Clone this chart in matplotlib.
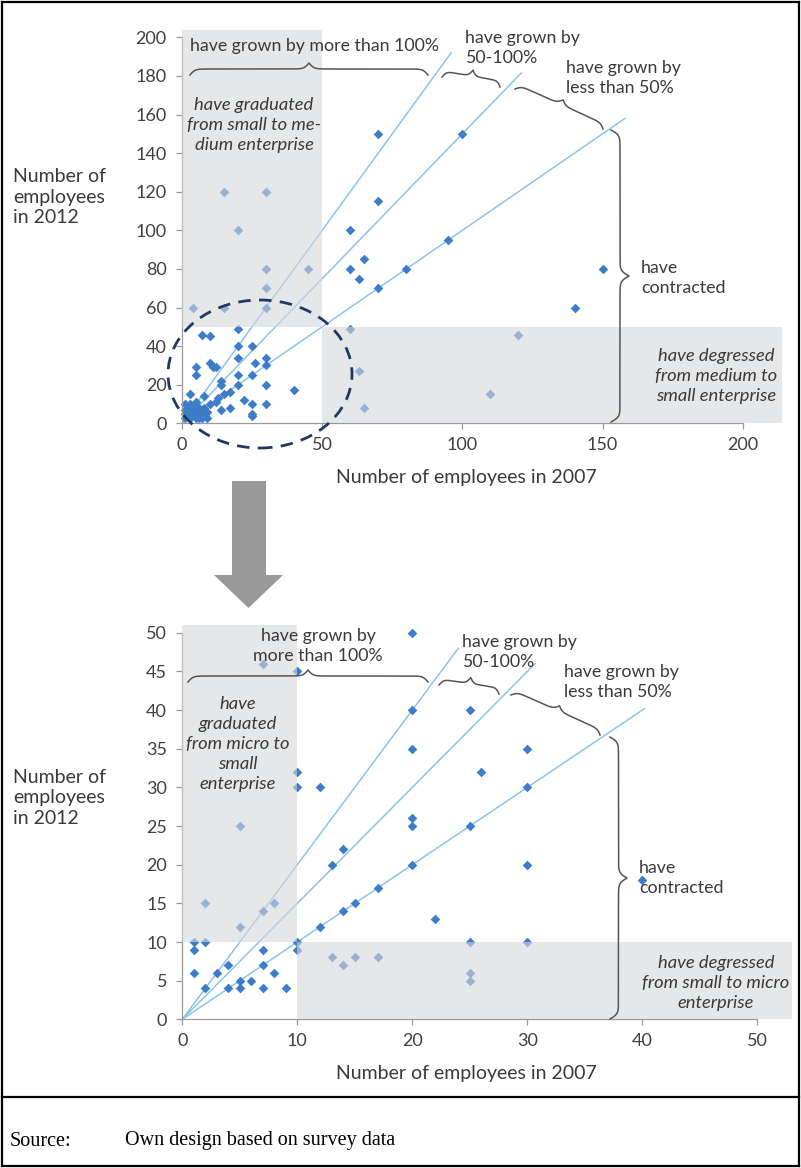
import numpy as np
import matplotlib
matplotlib.use("Agg")
import matplotlib.pyplot as plt
from matplotlib.patches import Rectangle, Ellipse, Polygon
from matplotlib.lines import Line2D

plt.rcParams['font.family'] = ['Lato', 'DejaVu Sans']

W, H = 801, 1168

# ---- data: top chart (all enterprises), employees 2007 vs 2012
top_2007 = [70, 100, 15, 30, 70, 20, 60, 95, 30, 45, 60, 65, 63, 80, 70, 30, 4, 15, 30,
            20, 60, 7, 10, 20, 25, 20, 30, 26, 30, 5, 5, 10, 11, 12, 20, 25, 14, 14, 20,
            30, 40, 3, 8, 17, 15, 22, 5, 12, 13, 10, 14, 17, 25, 30, 25, 25, 63, 65, 110,
            150, 140, 120,
            1, 1, 1, 2, 3, 4, 6, 7, 8, 9, 1, 3, 5, 6, 7, 2, 4, 6, 8, 9, 3, 5]
top_2012 = [150, 150, 120, 120, 115, 100, 100, 95, 80, 80, 80, 85, 75, 80, 70, 70, 60, 60, 60,
            49, 49, 46, 45, 40, 40, 34, 34, 31, 30, 29, 25, 31, 29, 29, 25, 25, 22, 20, 20,
            20, 17, 15, 14, 16, 15, 12, 11, 11, 13, 10, 7, 8, 10, 10, 5, 4, 27, 8, 15,
            80, 60, 46,
            10, 7, 5, 5, 5, 6, 5, 7, 4, 3, 3, 3, 3, 3, 3, 8, 8, 8, 8, 6, 10, 7]

# ---- data: bottom chart (micro and small enterprises)
bot_2007 = [20, 7, 10, 20, 25, 20, 30, 10, 10, 12, 26, 30, 5, 20, 20, 25, 13, 14, 20, 30,
            17, 15, 14, 12, 22, 2, 7, 8, 5, 40, 1, 1, 2, 10, 10, 7, 13, 15, 17, 14, 25, 30,
            25, 25, 1, 3, 4, 7, 8, 5, 6, 2, 4, 5, 7, 9]
bot_2012 = [50, 46, 45, 40, 40, 35, 35, 32, 30, 30, 32, 30, 25, 26, 25, 25, 20, 22, 20, 20,
            17, 15, 14, 12, 13, 15, 14, 15, 12, 18, 10, 9, 10, 10, 9, 9, 8, 8, 8, 7, 10, 10,
            6, 5, 6, 6, 7, 7, 6, 5, 5, 4, 4, 4, 4, 4]

# growth reference lines: slope (2012/2007) and x where the line ends
growth_slopes = [2.0, 1.5, 1.0]
top_line_ends = [96, 121, 158]
bot_line_ends = [24, 30.7, 40.2]

top_yticks = list(range(0, 201, 20))
top_xticks = [0, 50, 100, 150, 200]
bot_yticks = list(range(0, 51, 5))
bot_xticks = [0, 10, 20, 30, 40, 50]

PT_COL = '#3d7cc9'
LINE_COL = '#8cc4ec'
GRAY = '#d6d7da'
TXT = '#3a3a3a'
AX_COL = '#9a9a9a'


def fx(px):
    return px / W


def fy(py):
    return 1 - py / H


def brace(fig, p1, p2, depth):
    (x1, y1), (x2, y2) = p1, p2
    L = np.hypot(x2 - x1, y2 - y1)
    e = np.array([(x2 - x1) / L, (y2 - y1) / L])
    n = np.array([e[1], -e[0]])
    s = min(5.0, L / 16)
    u = np.linspace(0, L / 2, 120)
    v = 0.5 * np.tanh(u / s) + 0.5 * (1 + np.tanh((u - L / 2) / s))
    uu = np.concatenate([u, L - u[::-1]])
    vv = np.concatenate([v, v[::-1]])
    xs = x1 + uu * e[0] + vv * depth * n[0]
    ys = y1 + uu * e[1] + vv * depth * n[1]
    fig.add_artist(Line2D(fx(xs), fy(ys), transform=fig.transFigure,
                          color='#555555', lw=1.1))


def note(fig, px, py, s, ha='left', style='normal', size=12.8, ls=1.3):
    fig.text(fx(px), fy(py), s, ha=ha, va='center', color=TXT, fontsize=size,
             style=style, linespacing=ls, multialignment='center' if ha == 'center' else 'left')


def setup_axes(ax, xmax_axis, ymax_axis, xlim, ylim, xticks, yticks):
    ax.set_xlim(0, xlim)
    ax.set_ylim(0, ylim)
    for side in ['top', 'right']:
        ax.spines[side].set_visible(False)
    for side in ['left', 'bottom']:
        ax.spines[side].set_color(AX_COL)
        ax.spines[side].set_linewidth(0.9)
    ax.spines['left'].set_bounds(0, ymax_axis)
    ax.spines['bottom'].set_bounds(0, xmax_axis)
    ax.set_xticks(xticks)
    ax.set_yticks(yticks)
    ax.tick_params(axis='both', colors=AX_COL, labelcolor='#404040', labelsize=13,
                   length=4, width=0.9)
    ax.tick_params(axis='x', pad=6)
    ax.tick_params(axis='y', pad=7)
    ax.patch.set_alpha(0)


fig = plt.figure(figsize=(W / 100, H / 100), dpi=100)

# ---------------- top chart
ax1 = fig.add_axes([fx(182), fy(423.3), 600 / W, (423.3 - 29.6) / H])
setup_axes(ax1, 200, 200, 214, 204, top_xticks, top_yticks)
ax1.add_patch(Rectangle((0, 50), 50, 154, facecolor=GRAY, alpha=0.6, edgecolor='none', zorder=3))
ax1.add_patch(Rectangle((50, 0), 164, 50, facecolor=GRAY, alpha=0.6, edgecolor='none', zorder=3))
for k, xe in zip(growth_slopes, top_line_ends):
    ax1.plot([0, xe], [0, k * xe], color=LINE_COL, lw=1.1, zorder=1)
ax1.scatter(top_2007, top_2012, marker='D', s=24, color=PT_COL, zorder=2, clip_on=False,
            linewidths=0)

# ---------------- bottom chart
ax2 = fig.add_axes([fx(182.3), fy(1019.3), 609.5 / W, 394.2 / H])
setup_axes(ax2, 50, 50, 53, 51, bot_xticks, bot_yticks)
ax2.add_patch(Rectangle((0, 10), 10, 41, facecolor=GRAY, alpha=0.6, edgecolor='none', zorder=3))
ax2.add_patch(Rectangle((10, 0), 43, 10, facecolor=GRAY, alpha=0.6, edgecolor='none', zorder=3))
for k, xe in zip(growth_slopes, bot_line_ends):
    ax2.plot([0, xe], [0, k * xe], color=LINE_COL, lw=1.1, zorder=1)
ax2.scatter(bot_2007, bot_2012, marker='D', s=24, color=PT_COL, zorder=2, clip_on=False,
            linewidths=0)

# axis titles
for py in (478, 1073):
    note(fig, 466, py, 'Number of employees in 2007', ha='center', size=14)
note(fig, 13, 197, 'Number of\nemployees\nin 2012', size=14, ls=1.25)
note(fig, 13, 798, 'Number of\nemployees\nin 2012', size=14, ls=1.25)

# annotations - top
note(fig, 190, 46, 'have grown by more than 100%')
note(fig, 465, 48, 'have grown by\n50-100%')
note(fig, 566, 78, 'have grown by\nless than 50%')
note(fig, 641, 278, 'have\ncontracted')
note(fig, 254, 125, 'have graduated\nfrom small to me-\ndium enterprise', ha='center',
     style='italic', size=13.2)
note(fig, 716, 376, 'have degressed\nfrom medium to\nsmall enterprise', ha='center',
     style='italic', size=13.2)
brace(fig, (190, 75), (428, 75), 12)
brace(fig, (442, 77), (500, 87), 12)
brace(fig, (515, 89), (603, 129), 10)
brace(fig, (611, 130), (611, 422), 18)

# annotations - bottom
note(fig, 318, 646, 'have grown by\nmore than 100%', ha='center')
note(fig, 462, 652, 'have grown by\n50-100%')
note(fig, 564, 682, 'have grown by\nless than 50%')
note(fig, 639, 878, 'have\ncontracted')
note(fig, 238, 744, 'have\ngraduated\nfrom micro to\nsmall\nenterprise', ha='center',
     style='italic', size=13.2)
note(fig, 716, 983, 'have degressed\nfrom small to micro\nenterprise', ha='center',
     style='italic', size=13.2)
brace(fig, (188, 682), (428, 682), 12)
brace(fig, (439, 685), (499, 694), 12)
brace(fig, (511, 695), (600, 735), 10)
brace(fig, (610, 737), (610, 1019), 17)

# dashed ellipse around small firms
fig.add_artist(Ellipse((fx(260), fy(374)), 184 / W, 148 / H, transform=fig.transFigure,
                       fill=False, edgecolor='#203864', lw=2, linestyle=(0, (4.5, 3))))

# big grey arrow between the charts
arrow_px = [(232, 481), (266, 481), (266, 575), (283, 575), (248.5, 608), (214, 575), (232, 575)]
fig.add_artist(Polygon([(fx(x), fy(y)) for x, y in arrow_px], closed=True,
                       transform=fig.transFigure, facecolor='#999999', edgecolor='none'))

# frame and source line
frame = [((2, 2), (799, 2)), ((2, 1166), (799, 1166)), ((2, 2), (2, 1166)),
         ((799, 2), (799, 1166)), ((2, 1097), (799, 1097))]
for (a, b) in frame:
    fig.add_artist(Line2D([fx(a[0]), fx(b[0])], [fy(a[1]), fy(b[1])],
                          transform=fig.transFigure, color='black', lw=1.6))
fig.text(fx(10), fy(1141), 'Source:', fontsize=14.5, family='Liberation Serif', va='center')
fig.text(fx(125), fy(1141), 'Own design based on survey data', fontsize=14.5,
         family='Liberation Serif', va='center')

fig.savefig('out.png', dpi=100)
